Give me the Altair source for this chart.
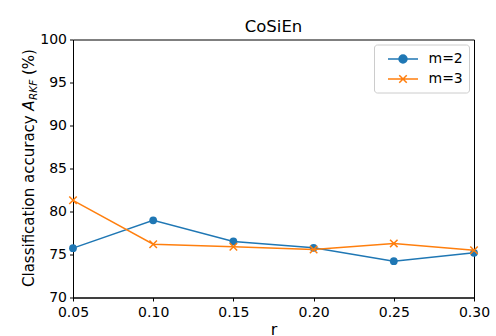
import altair as alt
import pandas as pd

# ---- data ----
r_values = [0.05, 0.10, 0.15, 0.20, 0.25, 0.30]
acc_m2 = [75.74, 78.97, 76.52, 75.78, 74.22, 75.20]
acc_m3 = [81.30, 76.20, 75.90, 75.58, 76.29, 75.50]
series_names = ["m=2", "m=3"]
x_ticks = [0.05, 0.10, 0.15, 0.20, 0.25, 0.30]
y_ticks = [70, 75, 80, 85, 90, 95, 100]
title_text = ["CoSiEn"]
xlabel_text = "r"
ylabel_parts = ["Classification accuracy", "A", "RKF", "(%)"]

colors = ["#1f77b4", "#ff7f0e"]
FONT = "DejaVu Sans"

df = pd.DataFrame({
    "r": r_values * 2,
    "acc": acc_m2 + acc_m3,
    "series": [series_names[0]] * len(r_values) + [series_names[1]] * len(r_values),
})
df_label = pd.DataFrame({"part": ylabel_parts, "idx": list(range(len(ylabel_parts)))})
df_title = pd.DataFrame({"t": title_text})

x_enc = alt.X(
    "r:Q",
    scale=alt.Scale(domain=[0.05, 0.30], nice=False, zero=False),
    axis=alt.Axis(values=x_ticks, format=".2f", title=xlabel_text, labelFlush=False,
                  titleY=37, titleBaseline="alphabetic", labelPadding=4),
)
y_enc = alt.Y(
    "acc:Q",
    scale=alt.Scale(domain=[70, 100], nice=False, zero=False),
    axis=alt.Axis(values=y_ticks, format="d", title=None, labelPadding=3, labelFlush=False),
)

x_path = "M-1,-1L1,1M-1,1L1,-1"
leg_circle = "M-2,0H2M-0.53,0A0.53,0.53,0,1,1,0.53,0A0.53,0.53,0,1,1,-0.53,0Z"
leg_x = "M-2,0H2M-0.5,-0.5L0.5,0.5M-0.5,0.5L0.5,-0.5"

base = alt.Chart(df).encode(x=x_enc, y=y_enc)

line_m2 = base.transform_filter(alt.datum.series == series_names[0]).mark_line(
    strokeWidth=1.5, color=colors[0])
pts_m2 = base.transform_filter(alt.datum.series == series_names[0]).mark_point(
    shape="circle", filled=True, size=60, opacity=1, color=colors[0])
line_m3 = base.transform_filter(alt.datum.series == series_names[1]).mark_line(
    strokeWidth=1.5, color=colors[1])
pts_m3 = base.transform_filter(alt.datum.series == series_names[1]).mark_point(
    shape=x_path, filled=False, size=56, opacity=1, strokeWidth=1.5, color=colors[1])

leg_scale_c = alt.Scale(domain=series_names, range=colors)
legend_layer = base.mark_point(opacity=0).encode(
    fill=alt.Fill("series:N", scale=leg_scale_c, legend=alt.Legend(title=None)),
    stroke=alt.Stroke("series:N", scale=leg_scale_c, legend=alt.Legend(title=None)),
    shape=alt.Shape("series:N", scale=alt.Scale(domain=series_names, range=[leg_circle, leg_x]),
                    legend=alt.Legend(title=None)),
)

lab = alt.Chart(df_label)
ylab_main = lab.transform_filter(alt.datum.idx == 0).mark_text(
    angle=270, align="left", baseline="alphabetic", font=FONT, fontSize=15, color="black"
).encode(text="part:N", x=alt.value(-39.5), y=alt.value(247.5))
ylab_A = lab.transform_filter(alt.datum.idx == 1).mark_text(
    angle=270, align="left", baseline="alphabetic", font=FONT, fontSize=15, fontStyle="italic", color="black"
).encode(text="part:N", x=alt.value(-39.5), y=alt.value(71.2))
ylab_sub = lab.transform_filter(alt.datum.idx == 2).mark_text(
    angle=270, align="left", baseline="alphabetic", font=FONT, fontSize=10.5, fontStyle="italic", color="black"
).encode(text="part:N", x=alt.value(-36.5), y=alt.value(60.5))
ylab_pct = lab.transform_filter(alt.datum.idx == 3).mark_text(
    angle=270, align="left", baseline="alphabetic", font=FONT, fontSize=15, color="black"
).encode(text="part:N", x=alt.value(-39.5), y=alt.value(35.5))

title_mark = alt.Chart(df_title).mark_text(
    align="center", baseline="alphabetic", font=FONT, fontSize=16.5, color="black"
).encode(text="t:N", x=alt.value(200.5), y=alt.value(-8))

chart = alt.layer(
    line_m2, pts_m2, line_m3, pts_m3, legend_layer,
    ylab_main, ylab_A, ylab_sub, ylab_pct, title_mark,
).properties(
    width=401, height=258,
    autosize="none",
    padding={"left": 73, "top": 39.5, "right": 22, "bottom": 38.5},
).configure_view(
    stroke="black", strokeWidth=1
).configure_axis(
    domainColor="black", tickColor="black", labelColor="black",
    labelFont=FONT, labelFontSize=14, tickSize=3.5, grid=False,
    domainWidth=1, tickWidth=1,
    titleFont=FONT, titleFontSize=16, titleFontWeight="normal", titleColor="black",
).configure_legend(
    orient="top-right", offset=5, padding=6, fillColor="white", strokeColor="#cccccc",
    cornerRadius=3, symbolSize=225, symbolStrokeWidth=1.5, symbolOffset=14.5,
    labelOffset=17, labelFont=FONT, labelFontSize=14, labelColor="black",
    rowPadding=4, symbolOpacity=1,
)

chart.save("out.html", embed_options={"renderer": "svg", "actions": False})
